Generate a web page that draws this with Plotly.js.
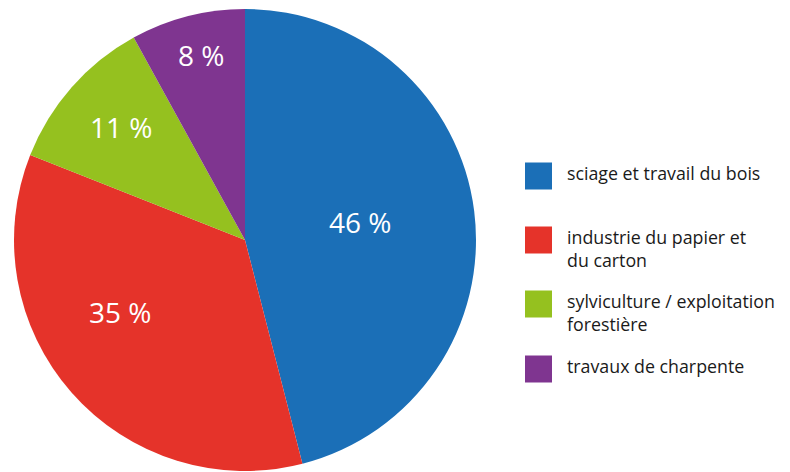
<!DOCTYPE html>
<html><head><meta charset="utf-8">
<script src="https://cdn.plot.ly/plotly-3.0.1.min.js"></script>
<style>html,body{margin:0;padding:0;background:#fff}#c{width:790px;height:472px}</style>
</head><body><div id="c"></div>
<script>
const categories = ["sciage et travail du bois", "industrie du papier et<br>du carton", "sylviculture / exploitation<br>forestière", "travaux de charpente"];
const values = [46, 35, 11, 8];
const colors = ["#1b6fb7", "#e5332a", "#95c11f", "#7f3590"];

const W = 790, H = 472;
const cx = 245, cy = 240, R = 231;
const legendY = [176, 240, 304, 369]; // swatch centers in px from top
const sw = 27, swX = 525, txtX = 565;
// label placement inside each slice: fraction along the slice's arc, fraction of radius
const labelArcFrac = [0.49, 0.59, 0.52, 0.535];
const labelRadFrac = [0.504, 0.625, 0.726, 0.823];

const shapes = [], annotations = [];
categories.forEach((c, i) => {
  const yc = legendY[i];
  shapes.push({type: 'rect', xref: 'paper', yref: 'paper',
    x0: swX / W, x1: (swX + sw) / W, y0: 1 - (yc + sw / 2) / H, y1: 1 - (yc - sw / 2) / H,
    fillcolor: colors[i], line: {width: 0}});
  annotations.push({xref: 'paper', yref: 'paper', x: txtX / W, y: 1 - (yc - 17) / H,
    xanchor: 'left', yanchor: 'top', align: 'left', showarrow: false, text: c,
    font: {family: 'Open Sans, sans-serif', size: 17.8, color: '#1a1a1a'}});
});

// value labels placed from the data (slice angles)
const total = values.reduce((a, b) => a + b, 0);
let cum = 0;
values.forEach((v, i) => {
  const a0 = cum / total * 2 * Math.PI, a1 = (cum + v) / total * 2 * Math.PI;
  cum += v;
  const a = a0 + (a1 - a0) * labelArcFrac[i];
  const r = R * labelRadFrac[i];
  const px = cx + r * Math.sin(a), py = cy - r * Math.cos(a);
  annotations.push({xref: 'paper', yref: 'paper', x: px / W, y: 1 - py / H,
    xanchor: 'center', yanchor: 'middle', showarrow: false, text: v + ' %',
    font: {family: 'Open Sans, sans-serif', size: 28, color: '#ffffff'}});
});

const trace = {
  type: 'pie', values: values, labels: categories, sort: false, direction: 'clockwise', rotation: 0,
  marker: {colors: colors, line: {width: 0}},
  textinfo: 'none',
  domain: {x: [(cx - R) / W, (cx + R) / W], y: [1 - (cy + R) / H, 1 - (cy - R) / H]},
  hoverinfo: 'none'
};
Plotly.newPlot('c', [trace], {
  width: W, height: H, margin: {l: 0, r: 0, t: 0, b: 0}, showlegend: false,
  paper_bgcolor: '#fff', shapes: shapes, annotations: annotations
}, {displayModeBar: false, staticPlot: true});
</script></body></html>
